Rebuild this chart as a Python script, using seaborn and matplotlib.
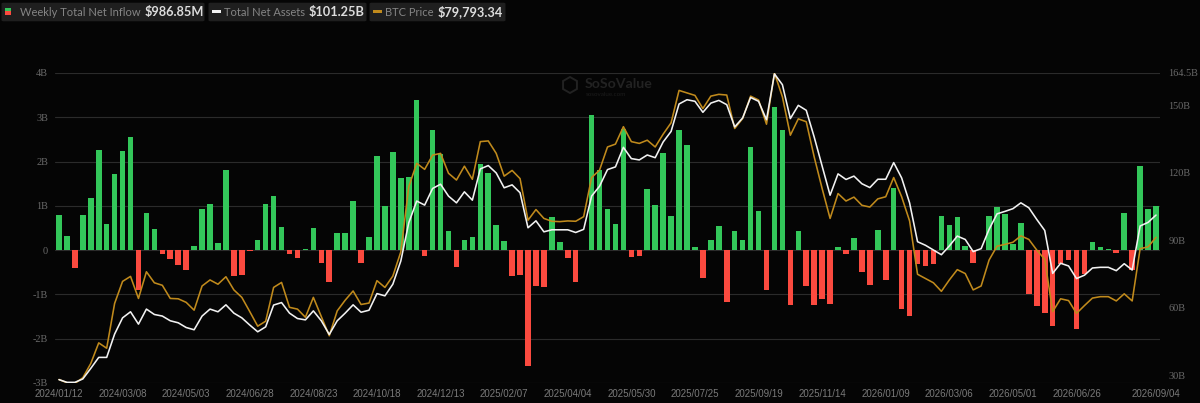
import numpy as np
import pandas as pd
import seaborn as sns
import matplotlib.pyplot as plt
from matplotlib.patches import FancyBboxPatch, RegularPolygon

# weekly net inflow, $B
inflow = [0.80, 0.33, -0.40, 0.80, 1.18, 2.26, 0.58, 1.71, 2.23, 2.55,
          -0.90, 0.85, 0.47, -0.08, -0.21, -0.33, -0.44, 0.10, 0.94, 1.05,
          0.16, 1.82, -0.58, -0.55, -0.03, 0.23, 1.04, 1.23, 0.53, -0.08,
          -0.17, 0.03, 0.50, -0.28, -0.71, 0.39, 0.39, 1.10, -0.30, 0.30,
          2.12, 1.00, 2.21, 1.62, 1.65, 3.38, -0.14, 2.72, 2.18, 0.44,
          -0.38, 0.24, 0.30, 1.95, 1.75, 0.56, 0.20, -0.59, -0.56, -2.61,
          -0.80, -0.84, 0.74, 0.19, -0.17, -0.71, 0.01, 3.05, 1.80, 0.92,
          0.60, 2.74, -0.16, -0.13, 1.38, 1.02, 2.20, 0.76, 2.71, 2.38,
          0.07, -0.64, 0.24, 0.54, -1.17, 0.43, 0.24, 2.33, 0.88, -0.90,
          3.23, 2.71, -1.23, 0.44, -0.80, -1.23, -1.11, -1.21, 0.06, -0.09,
          0.28, -0.50, -0.78, 0.45, -0.68, 1.41, -1.32, -1.48, -0.32, -0.36,
          -0.32, 0.77, 0.56, 0.75, 0.09, -0.29, 0.01, 0.78, 0.98, 0.82,
          0.15, 0.61, -1.00, -1.26, -1.42, -1.72, -0.32, -0.23, -1.79, -0.53,
          0.19, 0.07, 0.03, -0.06, 0.84, -0.45, 1.90, 0.92, 0.99]

# total net assets, $B
net_assets = [28.0, 26.8, 26.8, 28.3, 33.0, 37.9, 37.9, 48.3, 55.5, 58.2,
              52.7, 59.4, 57.0, 56.3, 54.2, 53.3, 51.2, 50.2, 56.3, 59.4,
              58.2, 61.3, 57.6, 55.5, 52.3, 49.3, 51.5, 61.2, 62.3, 57.6,
              55.2, 54.6, 58.6, 54.2, 48.1, 54.2, 57.6, 61.3, 58.0, 58.9,
              66.3, 65.3, 70.5, 80.8, 97.8, 107.5, 105.7, 113.1, 115.0, 109.7,
              106.7, 111.6, 107.9, 121.8, 123.3, 120.0, 113.4, 114.7, 111.2, 95.6,
              98.7, 93.8, 94.7, 94.7, 94.7, 93.5, 94.9, 109.7, 114.1, 121.5,
              122.7, 131.4, 126.4, 125.8, 128.0, 126.8, 133.8, 138.5, 150.7, 152.6,
              151.9, 147.0, 151.1, 152.3, 150.4, 140.5, 144.5, 153.6, 151.9, 143.7,
              164.1, 159.3, 144.2, 150.1, 147.9, 136.0, 123.0, 110.1, 119.6, 117.1,
              118.6, 115.2, 113.5, 117.2, 117.2, 124.6, 117.8, 106.7, 89.4, 87.8,
              85.7, 83.6, 87.5, 91.9, 90.4, 85.0, 86.3, 94.9, 101.8, 102.9,
              104.1, 106.7, 104.5, 99.3, 94.4, 75.3, 79.8, 78.6, 73.0, 74.5,
              77.7, 78.0, 78.0, 76.5, 79.6, 76.8, 96.4, 98.0, 101.25]

# btc price, $K
btc_price = [39.8, 38.9, 38.7, 40.3, 44.3, 50.1, 48.6, 61.2, 67.4, 68.8,
             62.6, 70.1, 67.0, 66.3, 62.6, 62.5, 61.5, 59.3, 66.1, 67.8,
             66.6, 68.7, 65.0, 62.9, 58.9, 54.8, 56.2, 65.7, 67.1, 60.1,
             59.6, 57.3, 62.9, 57.5, 52.1, 59.1, 62.1, 64.7, 60.9, 61.3,
             67.6, 65.7, 68.9, 75.7, 94.0, 100.6, 98.9, 102.9, 103.4, 97.8,
             95.9, 99.8, 96.1, 106.7, 106.9, 103.4, 97.0, 98.6, 96.3, 84.6,
             87.6, 85.1, 84.3, 84.2, 84.4, 84.3, 85.6, 96.6, 98.7, 105.2,
             106.0, 110.9, 106.7, 106.2, 107.1, 105.2, 108.8, 112.0, 121.1, 120.4,
             119.7, 116.0, 119.5, 120.0, 119.8, 110.4, 113.2, 119.5, 118.4, 111.6,
             126.0, 119.3, 108.5, 113.1, 112.3, 102.4, 93.5, 85.1, 92.1, 90.0,
             91.1, 88.8, 88.3, 90.6, 91.2, 96.6, 91.2, 84.4, 69.4, 68.2,
             67.0, 64.6, 67.8, 70.7, 69.6, 65.0, 66.1, 73.4, 77.3, 77.8,
             78.4, 80.2, 79.2, 76.2, 73.6, 58.9, 62.5, 62.0, 58.4, 60.6,
             62.7, 63.1, 63.1, 61.9, 63.9, 61.9, 76.6, 77.1, 79.79]

date_labels = ['2024/01/12', '2024/03/08', '2024/05/03', '2024/06/28', '2024/08/23',
               '2024/10/18', '2024/12/13', '2025/02/07', '2025/04/04', '2025/05/30',
               '2025/07/25', '2025/09/19', '2025/11/14', '2026/01/09', '2026/03/06',
               '2026/05/01', '2026/06/26', '2026/09/04']
left_ticks = [-3, -2, -1, 0, 1, 2, 3, 4]
left_labels = ['-3B', '-2B', '-1B', '0', '1B', '2B', '3B', '4B']
right_ticks = [30, 60, 90, 120, 150, 164.5]
right_labels = ['30B', '60B', '90B', '120B', '150B', '164.5B']

BG = '#050505'
GREEN = '#33c75a'
RED = '#fb4a3f'
GOLD = '#c08a1c'
GRID = '#2b2b2b'
TICK = '#6a6a6a'

df = pd.DataFrame({
    'date': pd.date_range('2024-01-12', periods=len(inflow), freq='7D').strftime('%Y/%m/%d'),
    'inflow': inflow,
    'assets': net_assets,
    'btc': btc_price,
})
df['week'] = df.index
df['side'] = np.where(df['inflow'] >= 0, 'in', 'out')

W, H = 1200, 403
sns.set_theme(style='dark')
fig = plt.figure(figsize=(W / 100, H / 100), dpi=100, facecolor=BG)
# plot area in pixels: x 55-1160, y 73-383
ax = fig.add_axes([55 / W, 1 - 383 / H, 1105 / W, 310 / H], facecolor=BG)

sns.barplot(data=df, x='date', y='inflow', hue='side', dodge=False, legend=False,
            palette={'in': GREEN, 'out': RED}, width=0.7, saturation=1,
            linewidth=0, ax=ax, zorder=3)
ax.set_xlim(-0.5, len(df) - 0.5)
ax.set_ylim(-3, 4)
ax.set_yticks(left_ticks)
ax.set_yticklabels(left_labels, family='Liberation Serif', fontsize=7.4, color=TICK)
tick_pos = [df.index[df['date'] == d][0] for d in date_labels]
ax.set_xticks(tick_pos)
ax.set_xticklabels(date_labels, family='Liberation Sans', fontsize=7.0, color='#7a7a7a')
ax.tick_params(axis='both', length=0)
ax.tick_params(axis='x', pad=4)
ax.tick_params(axis='y', pad=5)
ax.set_xlabel('')
ax.set_ylabel('')
ax.grid(True, axis='y', color=GRID, lw=0.8)
ax.set_axisbelow(True)
for s in ax.spines.values():
    s.set_visible(False)

# net assets on the visible right axis
ax2 = ax.twinx()
sns.lineplot(data=df, x='week', y='assets', color='#f2f2f2', lw=1.15, ax=ax2, zorder=5)
ax2.set_ylim(26.5, 164.5)
ax2.set_yticks(right_ticks)
ax2.set_yticklabels(right_labels, family='Liberation Serif', fontsize=7.4, color=TICK)
ax2.tick_params(axis='y', length=0, pad=6)
ax2.set_ylabel('')
ax2.set_xlabel('')
ax2.grid(False)
for s in ax2.spines.values():
    s.set_visible(False)

# btc has its own hidden scale
ax3 = ax.twinx()
sns.lineplot(data=df, x='week', y='btc', color=GOLD, lw=1.15, ax=ax3, zorder=4)
ax3.set_ylim(79.79 - (383 - 237.3) * 0.2812, 126.0)
ax3.set_yticks([])
ax3.set_ylabel('')
ax3.set_xlabel('')
ax3.grid(False)
for s in ax3.spines.values():
    s.set_visible(False)
ax2.set_zorder(ax3.get_zorder() + 1)
ax.set_xlim(-0.5, len(df) - 0.5)


def px(x, y):
    return x / W, 1 - y / H


# legend chips across the top
chips = [(2, 204, 'Weekly Total Net Inflow', '$986.85M', 20),
         (209, 366, 'Total Net Assets', '$101.25B', 224),
         (370, 505, 'BTC Price', '$79,793.34', 385)]
lato = ['Lato', 'DejaVu Sans']
for x0, x1, name, value, tx in chips:
    fig.add_artist(FancyBboxPatch(px(x0 + 2, 20), (x1 - x0 - 4) / W, 16 / H,
                                  boxstyle='round,pad=0.0015', transform=fig.transFigure,
                                  fc='#1f1f1f', ec='#1f1f1f', lw=1))
    t = fig.text(*px(tx, 12), name, family=lato, fontsize=8.0, color='#858585', va='center')
    fig.canvas.draw()
    end = t.get_window_extent().x1
    fig.text((end + 4) / W, 1 - 12 / H, value, family=lato, fontsize=9.2, weight='bold',
             color='#dddddd', va='center')

# legend markers
fig.add_artist(plt.Rectangle(px(5, 11.5), 6 / W, 3.5 / H, transform=fig.transFigure, fc=GREEN, lw=0))
fig.add_artist(plt.Rectangle(px(5, 15), 6 / W, 3.5 / H, transform=fig.transFigure, fc=RED, lw=0))
fig.add_artist(plt.Rectangle(px(212, 13), 9 / W, 2.5 / H, transform=fig.transFigure, fc='#f2f2f2', lw=0))
fig.add_artist(plt.Rectangle(px(373, 13), 9 / W, 2.5 / H, transform=fig.transFigure, fc=GOLD, lw=0))

# watermark
fig.text(*px(585, 84), 'SoSoValue', family=lato, fontsize=10.2, weight='bold', color='#222222', va='center')
fig.text(*px(586, 94), 'sosovalue.com', family=lato, fontsize=4.5, color='#1c1c1c', va='center')
fig.add_artist(RegularPolygon((570, H - 85), 6, radius=8, transform=None, fc='none', ec='#222222', lw=1.4))

fig.savefig('out.png', dpi=100, facecolor=BG)
